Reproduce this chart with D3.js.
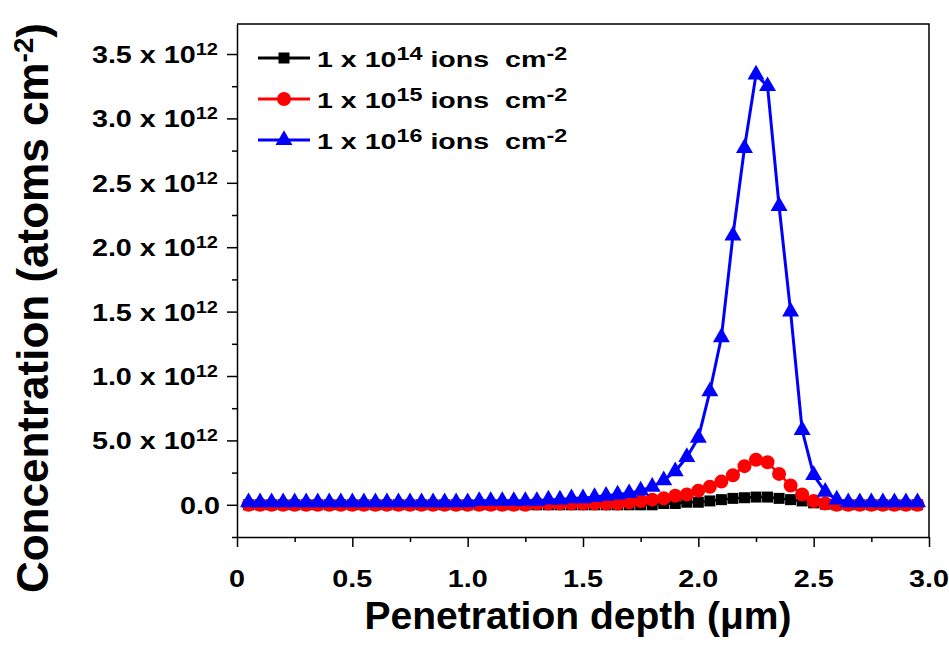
<!DOCTYPE html>
<meta charset="utf-8">
<script src="https://d3js.org/d3.v7.min.js"></script>
<style>
  body { margin: 0; background: #fff; }
  text { font-family: "Liberation Sans", Arial, sans-serif; font-weight: bold; white-space: pre; }
</style>
<div id="my_dataviz"></div>
<script>

// depth (um)
var depth = [0.05,0.10,0.15,0.20,0.25,0.30,0.35,0.40,0.45,0.50,
             0.55,0.60,0.65,0.70,0.75,0.80,0.85,0.90,0.95,1.00,
             1.05,1.10,1.15,1.20,1.25,1.30,1.35,1.40,1.45,1.50,
             1.55,1.60,1.65,1.70,1.75,1.80,1.85,1.90,1.95,2.00,
             2.05,2.10,2.15,2.20,2.25,2.30,2.35,2.40,2.45,2.50,
             2.55,2.60,2.65,2.70,2.75,2.80,2.85,2.90,2.95];

// concentration in units of 10^12 atoms cm-2
var dose14 = [0,0,0,0,0,0,0,0,0,0,
              0,0,0,0,0,0,0,0,0,0,
              0,0,0,0,0,0,0,0,0,0,
              0,0,0,0,0,0,0.01,0.01,0.02,0.02,
              0.03,0.04,0.05,0.055,0.06,0.06,0.05,0.04,0.03,0.015,
              0.005,0,0,0,0,0,0,0,0];
var dose15 = [0,0,0,0,0,0,0,0,0,0,
              0,0,0,0,0,0,0,0,0,0,
              0,0,0,0,0,0.01,0.01,0.01,0.01,0.01,
              0.01,0.01,0.01,0.02,0.03,0.04,0.05,0.07,0.08,0.11,
              0.14,0.18,0.23,0.30,0.35,0.33,0.24,0.15,0.08,0.03,
              0.01,0,0,0,0,0,0,0,0];
var dose16 = [0.02,0.02,0.02,0.02,0.02,0.02,0.02,0.02,0.02,0.02,
              0.02,0.02,0.02,0.02,0.02,0.02,0.02,0.02,0.02,0.02,
              0.03,0.03,0.03,0.03,0.03,0.03,0.04,0.04,0.05,0.05,
              0.06,0.07,0.08,0.09,0.11,0.14,0.19,0.26,0.37,0.52,
              0.88,1.30,2.09,2.77,3.34,3.25,2.32,1.50,0.58,0.23,
              0.10,0.04,0.02,0.02,0.02,0.02,0.02,0.02,0.02];

var seriesNames = ["14", "15", "16"];
var seriesColors = ["#000000", "#ff0000", "#0000ff"];

var xTicks = [0, 0.5, 1.0, 1.5, 2.0, 2.5, 3.0];
var xTickLabels = ["0", "0.5", "1.0", "1.5", "2.0", "2.5", "3.0"];
var xMinor = [0.25, 0.75, 1.25, 1.75, 2.25, 2.75];
var yTicks = [0, 0.5, 1.0, 1.5, 2.0, 2.5, 3.0, 3.5];
var yTickLabels = ["0.0", "5.0", "1.0", "1.5", "2.0", "2.5", "3.0", "3.5"];
var yMinor = [-0.25, 0.25, 0.75, 1.25, 1.75, 2.25, 2.75, 3.25];

var W = 949, H = 648;
var box = {left: 237, right: 929, top: 24, bottom: 537};

var svg = d3.select("#my_dataviz")
    .append("svg")
    .attr("width", W)
    .attr("height", H)
    .style("background", "#fff");

var x = d3.scaleLinear().domain([0, 3]).range([box.left, box.right]);
var y = d3.scaleLinear().domain([-0.25, 3.733]).range([box.bottom, box.top]);

// axes
svg.append("g")
    .attr("transform", "translate(0," + box.bottom + ")")
    .call(d3.axisBottom(x).tickValues(xTicks).tickSize(10).tickSizeOuter(0).tickFormat(""));
svg.append("g")
    .attr("transform", "translate(0," + box.bottom + ")")
    .call(d3.axisBottom(x).tickValues(xMinor).tickSize(5).tickSizeOuter(0).tickFormat(""))
    .select(".domain").remove();
svg.append("g")
    .attr("transform", "translate(" + box.left + ",0)")
    .call(d3.axisLeft(y).tickValues(yTicks).tickSize(10).tickSizeOuter(0).tickFormat(""));
svg.append("g")
    .attr("transform", "translate(" + box.left + ",0)")
    .call(d3.axisLeft(y).tickValues(yMinor).tickSize(5).tickSizeOuter(0).tickFormat(""))
    .select(".domain").remove();
svg.selectAll(".domain, .tick line").attr("stroke", "#000").attr("stroke-width", 1.5);

// top and right frame
svg.append("path")
    .attr("d", "M" + box.left + "," + box.top + "H" + box.right + "V" + box.bottom)
    .attr("fill", "none").attr("stroke", "#000").attr("stroke-width", 1.5);

// tick labels (the original text is wide, so stretch it a bit)
xTicks.forEach(function(v, i) {
    svg.append("text")
        .attr("transform", "translate(" + x(v) + ",587) scale(1.25,1)")
        .attr("text-anchor", "middle")
        .attr("font-size", 23)
        .text(xTickLabels[i]);
});
yTicks.forEach(function(v, i) {
    var t = svg.append("text")
        .attr("transform", "translate(" + (v === 0 ? 220 : 218) + "," + (y(v) + 9) + ") scale(1.25,1)")
        .attr("text-anchor", "end")
        .attr("font-size", 23);
    if (v === 0) { t.text(yTickLabels[i]); return; }
    t.append("tspan").text(yTickLabels[i] + " x 10");
    t.append("tspan").attr("dy", -8).attr("font-size", 16).text("12");
});

// axis titles
svg.append("text")
    .attr("x", 578).attr("y", 629)
    .attr("text-anchor", "middle")
    .attr("font-size", 39)
    .text("Penetration depth (\u03bcm)");
var yt = svg.append("text")
    .attr("transform", "translate(48,308) rotate(-90)")
    .attr("text-anchor", "middle")
    .attr("font-size", 44);
yt.append("tspan").text("Concentration (atoms cm");
yt.append("tspan").attr("dy", -15).attr("font-size", 28).text("-2");
yt.append("tspan").attr("dy", 15).text(")");

// series
var allSeries = [dose14, dose15, dose16];
var symbols = [d3.symbol().type(d3.symbolSquare).size(121),
               d3.symbol().type(d3.symbolCircle).size(154),
               d3.symbol().type(d3.symbolTriangle).size(125)];
var line = d3.line()
    .x(function(d) { return x(d[0]); })
    .y(function(d) { return y(d[1]); });

allSeries.forEach(function(vals, k) {
    var pts = depth.map(function(d, i) { return [d, vals[i]]; });
    var g = svg.append("g");
    g.append("path")
        .datum(pts)
        .attr("d", line)
        .attr("fill", "none")
        .attr("stroke", seriesColors[k])
        .attr("stroke-width", k === 2 ? 3 : 2.5);
    g.selectAll("path.pt")
        .data(pts)
        .enter().append("path")
        .attr("class", "pt")
        .attr("d", symbols[k])
        .attr("fill", seriesColors[k])
        .attr("transform", function(d) { return "translate(" + x(d[0]) + "," + y(d[1]) + ")"; });
});

// legend
var legY = [58, 99, 140];
seriesNames.forEach(function(s, k) {
    var g = svg.append("g").attr("transform", "translate(0," + legY[k] + ")");
    g.append("line")
        .attr("x1", 258).attr("x2", 310)
        .attr("stroke", seriesColors[k]).attr("stroke-width", 3);
    g.append("path")
        .attr("d", symbols[k])
        .attr("fill", seriesColors[k])
        .attr("transform", "translate(284,0)");
    var t = g.append("text")
        .attr("transform", "translate(317,9) scale(1.3,1)")
        .attr("font-size", 22);
    t.append("tspan").text("1 x 10");
    t.append("tspan").attr("dy", -7).attr("font-size", 18).text(s);
    t.append("tspan").attr("dy", 7).attr("font-size", 22).text(" ions  cm");
    t.append("tspan").attr("dy", -7).attr("font-size", 18).text("-2");
});

</script>
